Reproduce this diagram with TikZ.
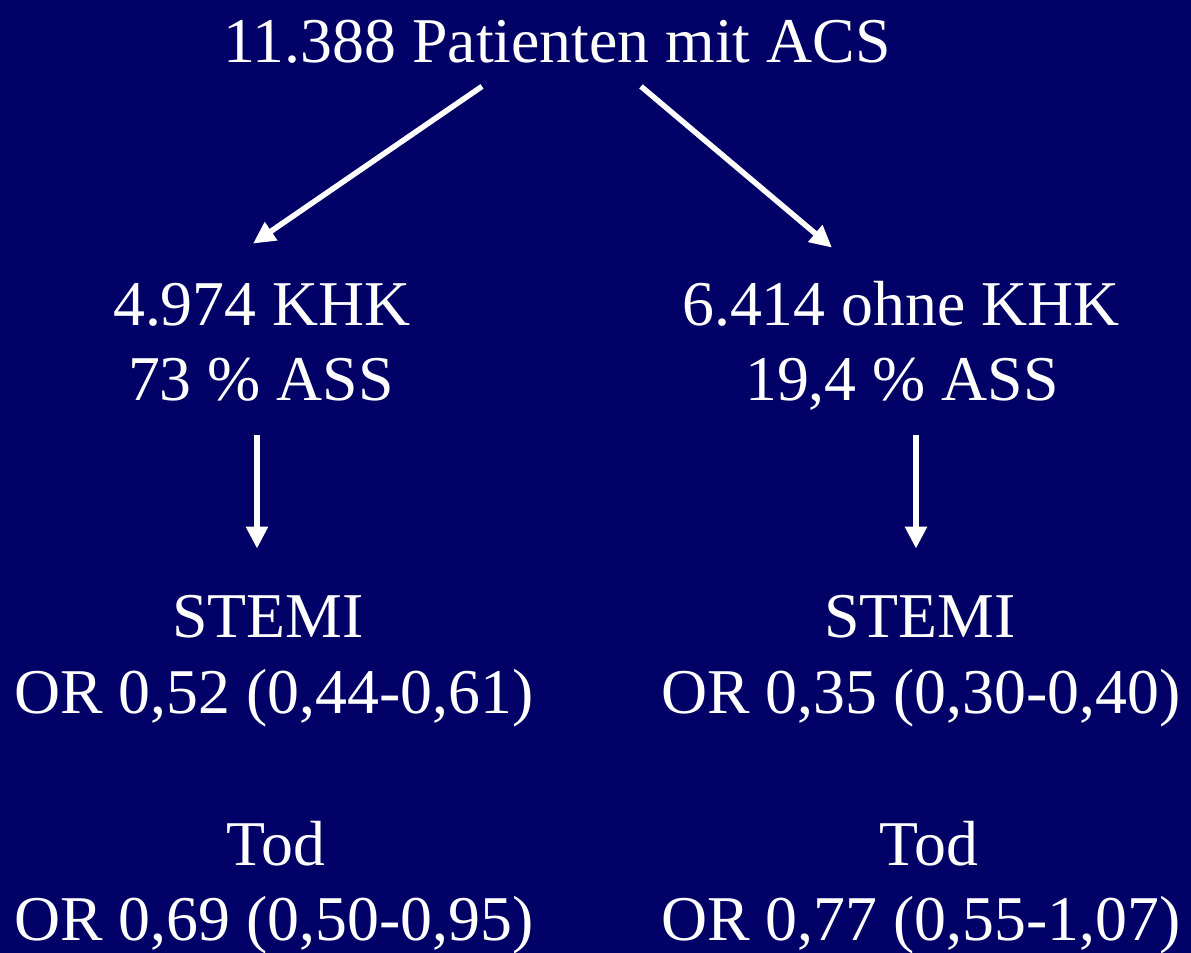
\documentclass[tikz,border=0pt]{standalone}
\usepackage{fontspec}
\setmainfont{Liberation Serif}
\usetikzlibrary{arrows.meta}
\definecolor{navy}{RGB}{0,0,102}

\begin{document}
\begin{tikzpicture}[
x=0.5pt,y=-0.5pt,
txt/.style={text=white,inner sep=0pt,anchor=base,text height=22pt,text depth=0pt,
font=\fontsize{31.9}{38}\selectfont},
arr/.style={-{Triangle[length=11pt,width=10.5pt]},line width=2.75pt,white}
]
\fill[navy] (0,0) rectangle (1191,953);
\useasboundingbox (0,0) rectangle (1191,953);
\node[txt] (acs) at (557,62) {11.388 Patienten mit ACS};
\node[txt] (khk) at (262,325) {4.974 KHK};
\node[txt] (assL) at (261,400) {73 \% ASS};
\node[txt] (ohne) at (901,325) {6.414 ohne KHK};
\node[txt] (assR) at (902,400) {19,4 \% ASS};
\node[txt] (stemiL) at (268,637) {STEMI};
\node[txt] (orStemiL) at (274,713) {OR 0,52 (0,44-0,61)};
\node[txt] (todL) at (276,865) {Tod};
\node[txt] (orTodL) at (274,940) {OR 0,69 (0,50-0,95)};
\node[txt] (stemiR) at (920,637) {STEMI};
\node[txt] (orStemiR) at (921,713) {OR 0,35 (0,30-0,40)};
\node[txt] (todR) at (929,865) {Tod};
\node[txt] (orTodR) at (921,940) {OR 0,77 (0,55-1,07)};
\draw[arr] ([xshift=-37.5pt,yshift=-12pt]acs.south)--([xshift=-4.5pt,yshift=18.5pt]khk.north);
\draw[arr] ([xshift=42pt,yshift=-12pt]acs.south)--([xshift=-34.5pt,yshift=16.5pt]ohne.north);
\draw[arr] ([xshift=-2pt,yshift=-17.5pt]assL.south)--([xshift=-5.5pt,yshift=22pt]stemiL.north);
\draw[arr] ([xshift=7pt,yshift=-17.5pt]assR.south)--([xshift=-2pt,yshift=22pt]stemiR.north);
\end{tikzpicture}
\end{document}
